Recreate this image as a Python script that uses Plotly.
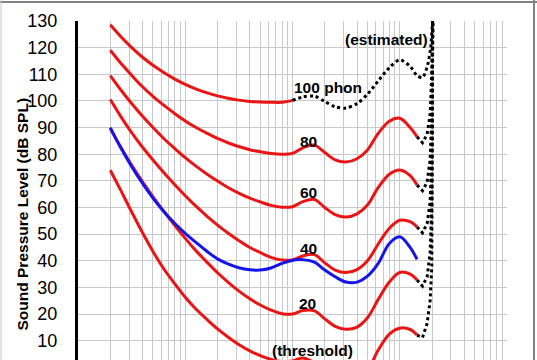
import math
import plotly.graph_objects as go

# ---------------- data ----------------
FREQ = [20, 25, 31.5, 40, 50, 63, 80, 100, 125, 160, 200, 250, 315, 400, 500,
        630, 800, 1000, 1250, 1600, 2000, 2500, 3150, 4000, 5000, 6300, 8000,
        10000, 12500, 14500]

THRESHOLD = [74.0, 66.5, 58.5, 50.5, 43.5, 37.0, 31.3, 26.3, 22.0, 17.9, 14.4, 11.4,
             8.6, 6.2, 4.4, 3.0, 2.2, 2.4, 3.5, 1.7, -1.3, -4.2, -6.0, -5.4, -1.5,
             6.5, 12.5, 14.7, 14.2, 12.1]
PHON20 = [89.6, 82.7, 76.0, 69.6, 64.0, 58.6, 53.2, 48.4, 43.9, 39.4, 35.5, 32.0,
          28.7, 25.7, 23.4, 21.5, 20.1, 20.0, 21.3, 21.2, 18.2, 15.4, 14.3, 15.1,
          18.6, 25.5, 32.0, 35.6, 35.0, 32.8]
PHON40 = [100.5, 94.2, 88.2, 82.6, 77.8, 73.1, 68.5, 64.4, 60.6, 56.7, 53.4, 50.4,
          47.6, 45.0, 43.1, 41.3, 40.3, 40.3, 41.8, 42.3, 39.2, 36.5, 35.6, 36.7,
          40.0, 46.3, 52.2, 55.2, 54.7, 52.7]
PHON60 = [109.5, 104.2, 99.1, 94.2, 90.0, 85.9, 82.1, 78.7, 75.6, 72.5, 69.9, 67.5,
          65.4, 63.5, 62.1, 60.8, 60.1, 60.3, 62.2, 63.0, 60.0, 57.3, 56.4, 57.6,
          60.9, 67.5, 72.5, 74.1, 72.0, 68.4]
PHON80 = [119.0, 114.2, 109.7, 105.3, 101.7, 98.4, 95.2, 92.5, 90.1, 87.8, 85.9, 84.3,
          82.9, 81.7, 80.9, 80.3, 80.0, 80.3, 82.4, 83.4, 80.6, 77.9, 77.1, 78.3,
          81.6, 87.8, 92.4, 93.5, 90.0, 86.5]
BLUE40 = [90.0, 82.5, 75.5, 69.0, 63.5, 58.5, 54.0, 50.3, 47.0, 43.5, 40.7, 38.8,
          37.4, 36.6, 36.5, 37.3, 39.0, 40.2, 40.4, 39.5, 36.5, 34.0, 32.0, 32.0,
          34.2, 39.0, 46.5, 49.0, 45.0, 40.5]

P100_FREQ = [20, 25, 31.5, 40, 50, 63, 80, 100, 125, 160, 200, 250, 315, 400, 500,
             630, 800, 1000]
PHON100 = [128.6, 124.2, 120.1, 116.4, 113.4, 110.7, 108.2, 106.2, 104.5, 103.0,
           101.9, 101.0, 100.3, 99.8, 99.6, 99.5, 99.5, 100.2]

P100_EST_FREQ = [1000, 1250, 1600, 2000, 2500, 3150, 4000, 5000, 6300, 8000, 10000,
                 12500, 14500, 16300, 18200, 19400, 20300]
PHON100_EST = [100.2, 101.5, 101.8, 99.8, 97.8, 97.3, 99.0, 102.5, 107.5, 112.5,
               115.4, 113.0, 109.5, 108.8, 113.5, 120.0, 131.0]

TAIL_FREQ = [14500, 16300, 18000, 19200, 19900, 20300]
TAIL_80 = [86.5, 84.3, 87.5, 95.0, 110.0, 131.0]
TAIL_60 = [68.4, 66.3, 69.5, 78.0, 95.0, 131.0]
TAIL_40 = [52.7, 50.5, 54.0, 62.0, 80.0, 131.0]
TAIL_20 = [32.8, 30.5, 34.0, 43.0, 62.0, 131.0]
TAIL_THR = [12.1, 11.2, 16.5, 25.0, 38.0, 131.0]

Y_TICKS = [10, 20, 30, 40, 50, 60, 70, 80, 90, 100, 110, 120, 130]
Y_TITLE = "Sound Pressure Level (dB SPL)"

LABELS = ["100 phon", "80", "60", "40", "20", "(threshold)", "(estimated)"]
LABEL_F = [2130, 1400, 1400, 1400, 1390, 1535, 7450]
LABEL_L = [105.2, 84.7, 65.5, 44.7, 24.1, 6.5, 122.9]

# ---------------- figure ----------------
RED = "rgb(235,20,20)"
BLUE = "rgb(20,20,235)"
FONT = "Liberation Sans, Arial, Helvetica, sans-serif"

fig = go.Figure()

for vals in [THRESHOLD, PHON20, PHON40, PHON60, PHON80]:
    fig.add_trace(go.Scatter(x=FREQ, y=vals, mode="lines",
                             line=dict(color=RED, width=3, shape="spline", smoothing=1.0),
                             hoverinfo="skip", showlegend=False))
fig.add_trace(go.Scatter(x=P100_FREQ, y=PHON100, mode="lines",
                         line=dict(color=RED, width=3, shape="spline", smoothing=1.0),
                         hoverinfo="skip", showlegend=False))
fig.add_trace(go.Scatter(x=FREQ, y=BLUE40, mode="lines",
                         line=dict(color=BLUE, width=3, shape="spline", smoothing=1.0),
                         hoverinfo="skip", showlegend=False))

fig.add_trace(go.Scatter(x=P100_EST_FREQ, y=PHON100_EST, mode="lines",
                         line=dict(color="black", width=3, dash="dot", shape="spline",
                                   smoothing=0.8),
                         hoverinfo="skip", showlegend=False))
for tail in [TAIL_80, TAIL_60, TAIL_40, TAIL_20, TAIL_THR]:
    fig.add_trace(go.Scatter(x=TAIL_FREQ, y=tail, mode="lines",
                             line=dict(color="black", width=3, dash="dot"),
                             hoverinfo="skip", showlegend=False))

GRID_F = [m * 10 ** d for d in range(1, 5) for m in range(1, 10)] + [100000]

fig.update_xaxes(type="log", range=[1, 5], tickmode="array", tickvals=GRID_F,
                 showticklabels=False, ticks="", showgrid=True,
                 gridcolor="rgb(200,200,200)", gridwidth=1, showline=False,
                 zeroline=False, automargin=False)
fig.update_yaxes(range=[2.75, 130], tickmode="array", tickvals=Y_TICKS,
                 ticktext=[str(v) for v in Y_TICKS], ticks="", ticklabelstandoff=14,
                 tickfont=dict(family=FONT, size=18, color="black"),
                 showgrid=True, gridcolor="rgb(200,200,200)", gridwidth=1,
                 showline=True, linecolor="black", linewidth=3, zeroline=False,
                 automargin=False)

for txt, f, l in zip(LABELS, LABEL_F, LABEL_L):
    fig.add_annotation(x=math.log10(f), y=l, text=f"<b>{txt}</b>", showarrow=False,
                       xanchor="center", yanchor="middle",
                       font=dict(family=FONT, size=15.5, color="black"))

W, H = 537, 360
L, R, T, B = 78, 30, 21, 0
pw, ph = W - L - R, H - T - B

def px_x(px):
    return (px - L) / pw

def px_y(py):
    return (H - B - py) / ph

fig.add_annotation(xref="paper", yref="paper", x=px_x(22), y=px_y(214.5),
                   text=f"<b>{Y_TITLE}</b>", textangle=-90, showarrow=False,
                   xanchor="center", yanchor="middle",
                   font=dict(family=FONT, size=15.5, color="black"))

# thin grey frame around the whole picture
frame = dict(color="rgb(130,130,130)", width=2)
fig.add_shape(type="line", xref="paper", yref="paper", x0=px_x(0), x1=px_x(537),
              y0=px_y(2), y1=px_y(2), line=frame, layer="above")
fig.add_shape(type="line", xref="paper", yref="paper", x0=px_x(534), x1=px_x(534),
              y0=px_y(0), y1=px_y(360), line=frame, layer="above")
fig.add_shape(type="line", xref="paper", yref="paper", x0=px_x(1), x1=px_x(1),
              y0=px_y(0), y1=px_y(360), line=dict(color="rgb(200,200,200)", width=1),
              layer="above")

fig.update_layout(width=W, height=H, margin=dict(l=L, r=R, t=T, b=B, pad=0),
                  paper_bgcolor="white", plot_bgcolor="white", showlegend=False)

fig.write_html("out.html", config={"displayModeBar": False},
               post_script="document.body.style.margin='0';"
                           "document.body.style.overflow='hidden';")
